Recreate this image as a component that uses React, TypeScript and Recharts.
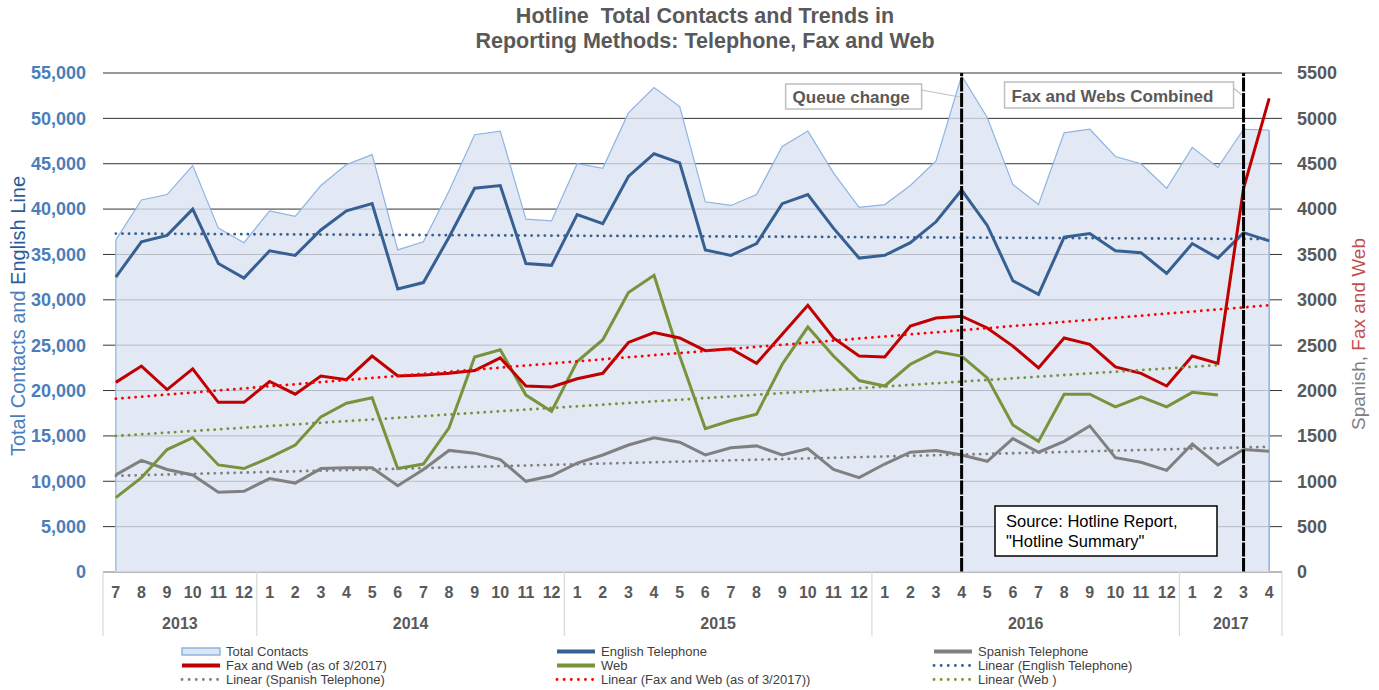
import React from "react";
import {
  ComposedChart,
  Area,
  Line,
  XAxis,
  YAxis,
  CartesianGrid,
  ReferenceLine,
  Legend,
} from "recharts";

// ---------------- DATA ----------------
const years = ["2013", "2014", "2015", "2016", "2017"];
const monthsByYear = [
  ["7", "8", "9", "10", "11", "12"],
  ["1", "2", "3", "4", "5", "6", "7", "8", "9", "10", "11", "12"],
  ["1", "2", "3", "4", "5", "6", "7", "8", "9", "10", "11", "12"],
  ["1", "2", "3", "4", "5", "6", "7", "8", "9", "10", "11", "12"],
  ["1", "2", "3", "4"],
];

// left axis
const totalContacts = [
  36600, 41000, 41600, 44800, 37900, 36300, 39800, 39200, 42600, 44900, 46000, 35500,
  36400, 42000, 48200, 48600, 38900, 38700, 45000, 44500, 50600, 53400, 51300, 40800,
  40400, 41600, 46900, 48600, 44000, 40200, 40500, 42600, 45300, 54700, 50100, 42700,
  40500, 48400, 48800, 45800, 45000, 42300, 46800, 44600, 48800, 48700,
];
const englishTelephone = [
  32500, 36400, 37100, 40000, 34000, 32400, 35400, 34900, 37700, 39800, 40600, 31200,
  31900, 36900, 42300, 42600, 34000, 33800, 39400, 38400, 43600, 46100, 45100, 35500,
  34900, 36200, 40600, 41600, 37900, 34600, 34900, 36300, 38600, 42100, 38200, 32100,
  30600, 36900, 37300, 35400, 35200, 32900, 36200, 34600, 37400, 36500,
];
// right axis
const spanishTelephone = [
  1070, 1230, 1130, 1070, 880, 890, 1030, 980, 1140, 1150, 1150, 950,
  1130, 1340, 1310, 1240, 1000, 1060, 1200, 1290, 1400, 1480, 1430, 1290,
  1370, 1390, 1290, 1360, 1130, 1040, 1190, 1320, 1340, 1290, 1220, 1470,
  1320, 1440, 1610, 1260, 1210, 1120, 1410, 1180, 1350, 1330,
];
const faxAndWeb = [
  2090, 2270, 2010, 2240, 1870, 1870, 2100, 1960, 2160, 2120, 2380, 2160,
  2170, 2190, 2220, 2360, 2050, 2040, 2130, 2190, 2530, 2640, 2580, 2440,
  2460, 2300, 2620, 2940, 2580, 2380, 2370, 2710, 2800, 2820, 2690, 2490,
  2250, 2580, 2510, 2260, 2190, 2050, 2380, 2300, 4230, 5220,
];
const web: (number | null)[] = [
  820, 1040, 1350, 1480, 1180, 1140, 1260, 1400, 1710, 1860, 1920, 1140,
  1190, 1590, 2370, 2450, 1950, 1770, 2320, 2560, 3080, 3270, 2380, 1580,
  1670, 1740, 2290, 2700, 2380, 2110, 2050, 2290, 2430, 2380, 2140, 1620,
  1440, 1960, 1960, 1820, 1930, 1820, 1980, 1950, null, null,
];
// linear trend lines: [value at first month, value at last month of the series]
const englishTrendEnds = [37300, 36700];
const spanishTrendEnds = [1060, 1380];
const faxWebTrendEnds = [1910, 2940];
const webTrendEnds = [1500, 2280];

const leftTicks = [0, 5000, 10000, 15000, 20000, 25000, 30000, 35000, 40000, 45000, 50000, 55000];
const rightTicks = [0, 500, 1000, 1500, 2000, 2500, 3000, 3500, 4000, 4500, 5000, 5500];

const queueChangeKey = "2016-4";
const combinedKey = "2017-3";

// ---------------- BUILD ----------------
type Cat = { key: string; month: string; year: string; first: boolean; count: number };
const cats: Cat[] = [];
years.forEach((y, yi) => {
  monthsByYear[yi].forEach((m, mi) => {
    cats.push({ key: `${y}-${m}`, month: m, year: y, first: mi === 0, count: monthsByYear[yi].length });
  });
});
const N = cats.length;
const lastWeb = web.reduce((acc: number, v, i) => (v != null ? i : acc), 0);

const data = cats.map((c, i) => ({
  key: c.key,
  total: totalContacts[i],
  english: englishTelephone[i],
  spanish: spanishTelephone[i],
  fax: faxAndWeb[i],
  web: web[i],
  engTrend: i === 0 ? englishTrendEnds[0] : i === N - 1 ? englishTrendEnds[1] : null,
  spaTrend: i === 0 ? spanishTrendEnds[0] : i === N - 1 ? spanishTrendEnds[1] : null,
  faxTrend: i === 0 ? faxWebTrendEnds[0] : i === N - 1 ? faxWebTrendEnds[1] : null,
  webTrend: i === 0 ? webTrendEnds[0] : i === lastWeb ? webTrendEnds[1] : null,
}));

// ---------------- LAYOUT / STYLE ----------------
const W = 1379;
const H = 690;
const PLOT_LEFT = 103;
const PLOT_RIGHT = 1282;
const PLOT_TOP = 73;
const PLOT_BOTTOM = 572;
const PLOT_W = PLOT_RIGHT - PLOT_LEFT;
const STEP = PLOT_W / N;
const PAD = STEP / 2;
const FONT = "'Liberation Sans', Arial, Helvetica, sans-serif";

const ENG = "#376092";
const GRAY = "#808080";
const RED = "#C00000";
const RED_TREND = "#FF0000";
const GREEN = "#77933C";
const AREA_FILL = "#DAE3F1";
const AREA_STROKE = "#8EB4E3";
const TEXT_GRAY = "#595959";
const SEP = "#D9D9D9";

const MONTH_BASE = 598;
const YEAR_BASE = 629;
const SEP_BOTTOM = 636;

const MonthTick = (props: any) => {
  const { x, payload } = props;
  let idx = cats.findIndex((c) => c.key === payload?.value);
  if (idx < 0) idx = payload?.index ?? props.index ?? 0;
  const c = cats[idx];
  if (!c) return null;
  return (
    <g>
      <text
        x={x}
        y={MONTH_BASE}
        textAnchor="middle"
        fill={TEXT_GRAY}
        fontSize={16}
        fontWeight={700}
        fontFamily={FONT}
      >
        {c.month}
      </text>
      {c.first && (
        <line x1={x - STEP / 2} x2={x - STEP / 2} y1={PLOT_BOTTOM} y2={SEP_BOTTOM} stroke={SEP} strokeWidth={1.2} />
      )}
      {c.first && (
        <text
          x={x + ((c.count - 1) * STEP) / 2}
          y={YEAR_BASE}
          textAnchor="middle"
          fill={TEXT_GRAY}
          fontSize={16}
          fontWeight={700}
          fontFamily={FONT}
        >
          {c.year}
        </text>
      )}
      {idx === N - 1 && (
        <line x1={x + STEP / 2} x2={x + STEP / 2} y1={PLOT_BOTTOM} y2={SEP_BOTTOM} stroke={SEP} strokeWidth={1.2} />
      )}
    </g>
  );
};

const makeCallout = (text: string, dxLeft: number, boxW: number, boxTop: number, boxH: number, base: number) =>
  (p: any) => {
    const vb = p?.viewBox || {};
    const lx = vb.x ?? 0;
    const bx = lx - dxLeft;
    return (
      <g>
        <line x1={bx + boxW} y1={boxTop + 6} x2={lx - 2} y2={boxTop + 13} stroke="#BFBFBF" strokeWidth={1.2} />
        <rect x={bx} y={boxTop} width={boxW} height={boxH} fill="#FFFFFF" stroke="#BFBFBF" strokeWidth={1.5} />
        <text x={bx + 7} y={base} fill={TEXT_GRAY} fontSize={17} fontWeight={700} fontFamily={FONT}>
          {text}
        </text>
      </g>
    );
  };

type LegendItem = { name: string; kind: "area" | "line" | "dot"; color: string };
const legendItems: LegendItem[] = [
  { name: "Total Contacts", kind: "area", color: AREA_STROKE },
  { name: "English Telephone", kind: "line", color: ENG },
  { name: "Spanish Telephone", kind: "line", color: GRAY },
  { name: "Fax and Web (as of 3/2017)", kind: "line", color: RED },
  { name: "Web", kind: "line", color: GREEN },
  { name: "Linear (English Telephone)", kind: "dot", color: ENG },
  { name: "Linear (Spanish Telephone)", kind: "dot", color: GRAY },
  { name: "Linear (Fax and Web (as of 3/2017))", kind: "dot", color: RED_TREND },
  { name: "Linear (Web )", kind: "dot", color: GREEN },
];
const LEG_COLS = [182, 557, 934];
const LEG_TOP = 640;

const LegendContent = () => (
  <svg width={W} height={50} style={{ display: "block" }}>
    {legendItems.map((it, k) => {
      const col = k % 3;
      const row = Math.floor(k / 3);
      const sx = LEG_COLS[col];
      const cy = 11.5 + row * 14;
      return (
        <g key={it.name}>
          {it.kind === "area" && (
            <rect x={sx} y={cy - 3.5} width={38} height={7} fill="#DCE6F2" stroke={AREA_STROKE} strokeWidth={1.5} />
          )}
          {it.kind === "line" && <line x1={sx} x2={sx + 38} y1={cy} y2={cy} stroke={it.color} strokeWidth={4} />}
          {it.kind === "dot" && (
            <line
              x1={sx}
              x2={sx + 36}
              y1={cy}
              y2={cy}
              stroke={it.color}
              strokeWidth={2.8}
              strokeDasharray="0.1 7"
              strokeLinecap="round"
            />
          )}
          <text x={sx + 44} y={cy + 4.6} fill="#3F3F3F" fontSize={13} fontFamily={FONT}>
            {it.name}
          </text>
        </g>
      );
    })}
  </svg>
);

export default function App() {
  return (
    <div style={{ position: "absolute", left: 0, top: 0, width: W, height: H, background: "#FFFFFF", fontFamily: FONT }}>
      <ComposedChart
        width={W}
        height={H}
        data={data}
        margin={{ top: PLOT_TOP, right: 0, bottom: 0, left: 0 }}
      >
        <CartesianGrid yAxisId="left" vertical={false} stroke="#333333" strokeWidth={1} />
        <XAxis
          dataKey="key"
          interval={0}
          height={H - PLOT_BOTTOM}
          padding={{ left: PAD, right: PAD }}
          tickLine={false}
          tickSize={0}
          axisLine={{ stroke: SEP, strokeWidth: 1.2 }}
          tick={<MonthTick />}
        />
        <YAxis
          yAxisId="left"
          orientation="left"
          width={PLOT_LEFT}
          domain={[0, 55000]}
          ticks={leftTicks}
          interval={0}
          tickLine={false}
          axisLine={false}
          tickSize={0}
          tickMargin={17}
          tickFormatter={(v: number) => v.toLocaleString("en-US")}
          tick={{ fill: "#4A7EBB", fontSize: 18, fontWeight: 700, fontFamily: FONT }}
        />
        <YAxis
          yAxisId="right"
          orientation="right"
          width={W - PLOT_RIGHT}
          domain={[0, 5500]}
          ticks={rightTicks}
          interval={0}
          tickLine={false}
          axisLine={false}
          tickSize={0}
          tickMargin={15}
          tick={{ fill: TEXT_GRAY, fontSize: 18, fontWeight: 700, fontFamily: FONT, textAnchor: "start" }}
        />
        <Area
          yAxisId="left"
          type="linear"
          dataKey="total"
          name="Total Contacts"
          fill={AREA_FILL}
          fillOpacity={0.78}
          stroke={AREA_STROKE}
          strokeWidth={1.2}
          isAnimationActive={false}
          dot={false}
          activeDot={false}
        />
        <ReferenceLine
          yAxisId="left"
          segment={[
            { x: cats[0].key, y: 0 },
            { x: cats[0].key, y: totalContacts[0] },
          ]}
          stroke={AREA_STROKE}
          strokeWidth={1.2}
        />
        <ReferenceLine
          yAxisId="left"
          segment={[
            { x: cats[N - 1].key, y: 0 },
            { x: cats[N - 1].key, y: totalContacts[N - 1] },
          ]}
          stroke={AREA_STROKE}
          strokeWidth={1.5}
        />
        <Line yAxisId="left" type="linear" dataKey="english" name="English Telephone" stroke={ENG} strokeWidth={3} dot={false} activeDot={false} isAnimationActive={false} />
        <Line yAxisId="right" type="linear" dataKey="spanish" name="Spanish Telephone" stroke={GRAY} strokeWidth={3} dot={false} activeDot={false} isAnimationActive={false} />
        <Line yAxisId="right" type="linear" dataKey="web" name="Web" stroke={GREEN} strokeWidth={3} dot={false} activeDot={false} isAnimationActive={false} />
        <Line yAxisId="right" type="linear" dataKey="fax" name="Fax and Web (as of 3/2017)" stroke={RED} strokeWidth={3} dot={false} activeDot={false} isAnimationActive={false} />
        <Line yAxisId="left" type="linear" dataKey="engTrend" name="Linear (English Telephone)" stroke={ENG} strokeWidth={2.8} strokeDasharray="0.1 6.5" strokeLinecap="round" connectNulls dot={false} activeDot={false} isAnimationActive={false} />
        <Line yAxisId="right" type="linear" dataKey="spaTrend" name="Linear (Spanish Telephone)" stroke={GRAY} strokeWidth={2.8} strokeDasharray="0.1 6.5" strokeLinecap="round" connectNulls dot={false} activeDot={false} isAnimationActive={false} />
        <Line yAxisId="right" type="linear" dataKey="faxTrend" name="Linear (Fax and Web (as of 3/2017))" stroke={RED_TREND} strokeWidth={2.8} strokeDasharray="0.1 6.5" strokeLinecap="round" connectNulls dot={false} activeDot={false} isAnimationActive={false} />
        <Line yAxisId="right" type="linear" dataKey="webTrend" name="Linear (Web )" stroke={GREEN} strokeWidth={2.8} strokeDasharray="0.1 6.5" strokeLinecap="round" connectNulls dot={false} activeDot={false} isAnimationActive={false} />
        <ReferenceLine
          yAxisId="left"
          x={queueChangeKey}
          stroke="#000000"
          strokeWidth={3}
          strokeDasharray="14 1.5"
          label={makeCallout("Queue change", 176, 136, 84, 25, 102.5)}
        />
        <ReferenceLine
          yAxisId="left"
          x={combinedKey}
          stroke="#000000"
          strokeWidth={3}
          strokeDasharray="14 1.5"
          label={makeCallout("Fax and Webs Combined", 239, 229, 82, 26, 101.5)}
        />
        <Legend
          layout="horizontal"
          verticalAlign="middle"
          align="center"
          content={<LegendContent />}
          wrapperStyle={{ left: 0, top: LEG_TOP, width: W, height: 50 }}
        />
      </ComposedChart>
      <svg
        width={W}
        height={H}
        style={{ position: "absolute", left: 0, top: 0, pointerEvents: "none" }}
      >
        <text x={705} y={23} textAnchor="middle" fill={TEXT_GRAY} fontSize={21.5} fontWeight={700} fontFamily={FONT}>
          {"Hotline\u00A0 Total Contacts and Trends in"}
        </text>
        <text x={705} y={48} textAnchor="middle" fill={TEXT_GRAY} fontSize={21.5} fontWeight={700} fontFamily={FONT}>
          Reporting Methods: Telephone, Fax and Web
        </text>
        <text transform="translate(24.5,316) rotate(-90)" textAnchor="middle" fontSize={20} fontFamily={FONT}>
          <tspan fill="#4A7EBB">Total Contacts and </tspan>
          <tspan fill="#2C5A96">English Line</tspan>
        </text>
        <text transform="translate(1365,334) rotate(-90)" textAnchor="middle" fontSize={19} fontFamily={FONT}>
          <tspan fill={GRAY}>Spanish, </tspan>
          <tspan fill="#C0504D">Fax and Web</tspan>
        </text>
        <rect x={995} y={506} width={222} height={50} fill="#FFFFFF" stroke="#000000" strokeWidth={1.5} />
        <text x={1006} y={526.5} fill="#000000" fontSize={16.5} fontFamily={FONT}>
          Source: Hotline Report,
        </text>
        <text x={1006} y={546.5} fill="#000000" fontSize={16.5} fontFamily={FONT}>
          "Hotline Summary"
        </text>
      </svg>
    </div>
  );
}
